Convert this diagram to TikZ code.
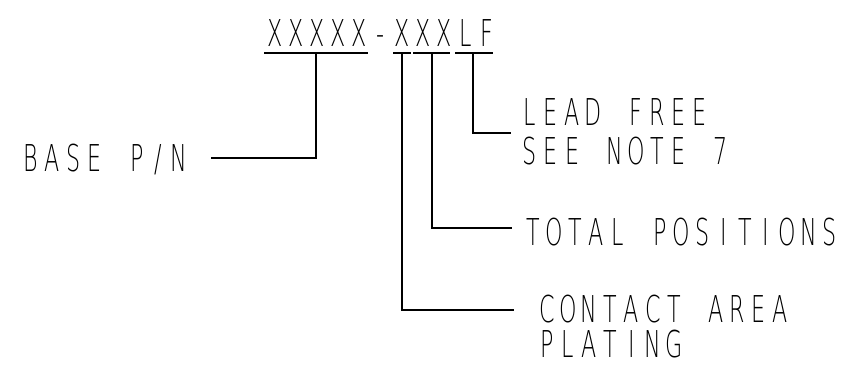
\documentclass[tikz,border=0pt]{standalone}
\usepackage{fontspec}
\IfFontExistsTF{DejaVu Sans ExtraLight}
 {\newfontfamily\cadfont{DejaVu Sans ExtraLight}[FakeStretch=0.6]\def\cadsize{37}}
 {\newfontfamily\cadfont{Latin Modern Sans}[FakeStretch=0.55]\def\cadsize{39}}
\newcommand\cadchars[1]{\cadcharsaux#1\relax}
\def\cadcharsaux#1{\ifx\relax#1\else\makebox[21.2pt][c]{#1}\expandafter\cadcharsaux\fi}
\tikzset{
  cadtext/.style={font=\cadfont\fontsize{\cadsize}{\cadsize}\selectfont, inner sep=0pt, anchor=base west},
  leader/.style={line width=1.6pt, black}
}
\begin{document}
\begin{tikzpicture}[x=1pt,y=-1pt]
\path[use as bounding box, fill=white] (0,0) rectangle (858,371);
% texts
\node[cadtext] (pn) at (264,47) {\cadchars{XXXXX-XXXLF}};
\node[cadtext] (base) at (20,172) {\cadchars{BASE~P/N}};
\node[cadtext] (lead1) at (519,125.5) {\cadchars{LEAD~FREE}};
\node[cadtext] (lead2) at (519,164.5) {\cadchars{SEE~NOTE~7}};
\node[cadtext] (total) at (522,245) {\cadchars{TOTAL~POSITIONS}};
\node[cadtext] (cont1) at (536,322) {\cadchars{CONTACT~AREA}};
\node[cadtext] (cont2) at (536,357) {\cadchars{PLATING}};
% underlines
\coordinate (u1a) at (264,53); \coordinate (u1b) at (368,53);
\coordinate (u2a) at (393,53); \coordinate (u2b) at (411,53);
\coordinate (u3a) at (413,53); \coordinate (u3b) at (450,53);
\coordinate (u4a) at (455,53); \coordinate (u4b) at (493,53);
\draw[leader] (u1a) -- (u1b);
\draw[leader] (u2a) -- (u2b);
\draw[leader] (u3a) -- (u3b);
\draw[leader] (u4a) -- (u4b);
% leaders
\coordinate (t1) at (316,53); \coordinate (e1) at (211,158);
\coordinate (t2) at (402,53); \coordinate (e2) at (514,310);
\coordinate (t3) at (432,53); \coordinate (e3) at (512,228);
\coordinate (t4) at (473,53); \coordinate (e4) at (511,133);
\draw[leader] (t1) |- (e1);
\draw[leader] (t2) |- (e2);
\draw[leader] (t3) |- (e3);
\draw[leader] (t4) |- (e4);
\end{tikzpicture}
\end{document}
